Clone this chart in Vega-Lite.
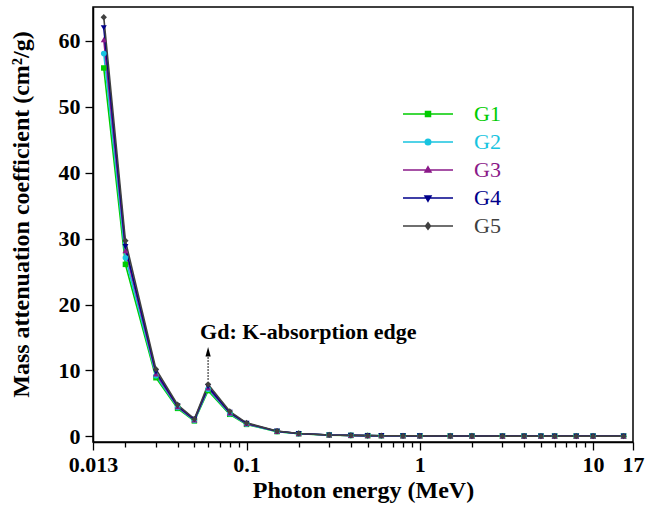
{
  "$schema": "https://vega.github.io/schema/vega-lite/v6.json",
  "width": 540,
  "height": 435,
  "autosize": "none",
  "padding": {"left": 93, "top": 7, "right": 13, "bottom": 73},
  "background": "white",
  "config": {
    "view": {"stroke": "black", "strokeWidth": 1.5},
    "font": "Liberation Serif",
    "axis": {
      "grid": false,
      "domainColor": "black",
      "domainWidth": 1.5,
      "tickColor": "black",
      "tickWidth": 1.3,
      "labelFont": "Liberation Serif",
      "labelFontWeight": "bold",
      "labelFontSize": 22,
      "labelColor": "black",
      "titleFont": "Liberation Serif",
      "titleFontWeight": "bold",
      "titleFontSize": 24,
      "titleColor": "black"
    }
  },
  "datasets": {
    "mu": [
      {"E": 0.015, "g": "G1", "mu": 55.9}, {"E": 0.02, "g": "G1", "mu": 26.1}, {"E": 0.03, "g": "G1", "mu": 8.9}, {"E": 0.04, "g": "G1", "mu": 4.25}, {"E": 0.05, "g": "G1", "mu": 2.35}, {"E": 0.06, "g": "G1", "mu": 6.95}, {"E": 0.08, "g": "G1", "mu": 3.35}, {"E": 0.1, "g": "G1", "mu": 1.82}, {"E": 0.15, "g": "G1", "mu": 0.73}, {"E": 0.2, "g": "G1", "mu": 0.41}, {"E": 0.3, "g": "G1", "mu": 0.2}, {"E": 0.4, "g": "G1", "mu": 0.145}, {"E": 0.5, "g": "G1", "mu": 0.118}, {"E": 0.6, "g": "G1", "mu": 0.103}, {"E": 0.8, "g": "G1", "mu": 0.086}, {"E": 1, "g": "G1", "mu": 0.075}, {"E": 1.5, "g": "G1", "mu": 0.06}, {"E": 2, "g": "G1", "mu": 0.052}, {"E": 3, "g": "G1", "mu": 0.044}, {"E": 4, "g": "G1", "mu": 0.04}, {"E": 5, "g": "G1", "mu": 0.038}, {"E": 6, "g": "G1", "mu": 0.037}, {"E": 8, "g": "G1", "mu": 0.036}, {"E": 10, "g": "G1", "mu": 0.036}, {"E": 15, "g": "G1", "mu": 0.037},
      {"E": 0.015, "g": "G2", "mu": 58.1}, {"E": 0.02, "g": "G2", "mu": 27.1}, {"E": 0.03, "g": "G2", "mu": 9.2}, {"E": 0.04, "g": "G2", "mu": 4.38}, {"E": 0.05, "g": "G2", "mu": 2.42}, {"E": 0.06, "g": "G2", "mu": 7.15}, {"E": 0.08, "g": "G2", "mu": 3.45}, {"E": 0.1, "g": "G2", "mu": 1.87}, {"E": 0.15, "g": "G2", "mu": 0.75}, {"E": 0.2, "g": "G2", "mu": 0.42}, {"E": 0.3, "g": "G2", "mu": 0.205}, {"E": 0.4, "g": "G2", "mu": 0.148}, {"E": 0.5, "g": "G2", "mu": 0.12}, {"E": 0.6, "g": "G2", "mu": 0.104}, {"E": 0.8, "g": "G2", "mu": 0.087}, {"E": 1, "g": "G2", "mu": 0.076}, {"E": 1.5, "g": "G2", "mu": 0.061}, {"E": 2, "g": "G2", "mu": 0.052}, {"E": 3, "g": "G2", "mu": 0.044}, {"E": 4, "g": "G2", "mu": 0.04}, {"E": 5, "g": "G2", "mu": 0.038}, {"E": 6, "g": "G2", "mu": 0.037}, {"E": 8, "g": "G2", "mu": 0.036}, {"E": 10, "g": "G2", "mu": 0.036}, {"E": 15, "g": "G2", "mu": 0.037},
      {"E": 0.015, "g": "G3", "mu": 60.2}, {"E": 0.02, "g": "G3", "mu": 28.2}, {"E": 0.03, "g": "G3", "mu": 9.5}, {"E": 0.04, "g": "G3", "mu": 4.5}, {"E": 0.05, "g": "G3", "mu": 2.5}, {"E": 0.06, "g": "G3", "mu": 7.35}, {"E": 0.08, "g": "G3", "mu": 3.55}, {"E": 0.1, "g": "G3", "mu": 1.93}, {"E": 0.15, "g": "G3", "mu": 0.77}, {"E": 0.2, "g": "G3", "mu": 0.43}, {"E": 0.3, "g": "G3", "mu": 0.21}, {"E": 0.4, "g": "G3", "mu": 0.15}, {"E": 0.5, "g": "G3", "mu": 0.121}, {"E": 0.6, "g": "G3", "mu": 0.105}, {"E": 0.8, "g": "G3", "mu": 0.088}, {"E": 1, "g": "G3", "mu": 0.077}, {"E": 1.5, "g": "G3", "mu": 0.062}, {"E": 2, "g": "G3", "mu": 0.053}, {"E": 3, "g": "G3", "mu": 0.045}, {"E": 4, "g": "G3", "mu": 0.041}, {"E": 5, "g": "G3", "mu": 0.039}, {"E": 6, "g": "G3", "mu": 0.038}, {"E": 8, "g": "G3", "mu": 0.037}, {"E": 10, "g": "G3", "mu": 0.037}, {"E": 15, "g": "G3", "mu": 0.038},
      {"E": 0.015, "g": "G4", "mu": 62.0}, {"E": 0.02, "g": "G4", "mu": 28.8}, {"E": 0.03, "g": "G4", "mu": 9.8}, {"E": 0.04, "g": "G4", "mu": 4.62}, {"E": 0.05, "g": "G4", "mu": 2.57}, {"E": 0.06, "g": "G4", "mu": 7.55}, {"E": 0.08, "g": "G4", "mu": 3.65}, {"E": 0.1, "g": "G4", "mu": 1.98}, {"E": 0.15, "g": "G4", "mu": 0.79}, {"E": 0.2, "g": "G4", "mu": 0.44}, {"E": 0.3, "g": "G4", "mu": 0.215}, {"E": 0.4, "g": "G4", "mu": 0.153}, {"E": 0.5, "g": "G4", "mu": 0.123}, {"E": 0.6, "g": "G4", "mu": 0.106}, {"E": 0.8, "g": "G4", "mu": 0.089}, {"E": 1, "g": "G4", "mu": 0.078}, {"E": 1.5, "g": "G4", "mu": 0.063}, {"E": 2, "g": "G4", "mu": 0.054}, {"E": 3, "g": "G4", "mu": 0.046}, {"E": 4, "g": "G4", "mu": 0.042}, {"E": 5, "g": "G4", "mu": 0.04}, {"E": 6, "g": "G4", "mu": 0.039}, {"E": 8, "g": "G4", "mu": 0.038}, {"E": 10, "g": "G4", "mu": 0.038}, {"E": 15, "g": "G4", "mu": 0.039},
      {"E": 0.015, "g": "G5", "mu": 63.6}, {"E": 0.02, "g": "G5", "mu": 29.7}, {"E": 0.03, "g": "G5", "mu": 10.2}, {"E": 0.04, "g": "G5", "mu": 4.8}, {"E": 0.05, "g": "G5", "mu": 2.65}, {"E": 0.06, "g": "G5", "mu": 7.9}, {"E": 0.08, "g": "G5", "mu": 3.8}, {"E": 0.1, "g": "G5", "mu": 2.05}, {"E": 0.15, "g": "G5", "mu": 0.81}, {"E": 0.2, "g": "G5", "mu": 0.45}, {"E": 0.3, "g": "G5", "mu": 0.22}, {"E": 0.4, "g": "G5", "mu": 0.156}, {"E": 0.5, "g": "G5", "mu": 0.125}, {"E": 0.6, "g": "G5", "mu": 0.108}, {"E": 0.8, "g": "G5", "mu": 0.09}, {"E": 1, "g": "G5", "mu": 0.079}, {"E": 1.5, "g": "G5", "mu": 0.064}, {"E": 2, "g": "G5", "mu": 0.055}, {"E": 3, "g": "G5", "mu": 0.047}, {"E": 4, "g": "G5", "mu": 0.043}, {"E": 5, "g": "G5", "mu": 0.041}, {"E": 6, "g": "G5", "mu": 0.04}, {"E": 8, "g": "G5", "mu": 0.039}, {"E": 10, "g": "G5", "mu": 0.039}, {"E": 15, "g": "G5", "mu": 0.04}
    ],
    "note": [
      {"E": 0.06, "mu": 14.8, "mu_lo": 8.6, "mu_hi": 12.3, "mu_head": 12.85, "label": "Gd: K-absorption edge"}
    ]
  },
  "layer": [
    {
      "data": {"name": "mu"},
      "mark": {"type": "line", "strokeWidth": 1.6},
      "encoding": {
        "x": {
          "field": "E", "type": "quantitative",
          "scale": {"type": "log", "domain": [0.013, 17], "nice": false},
          "axis": {
            "title": "Photon energy (MeV)",
            "values": [0.013, 0.02, 0.03, 0.04, 0.05, 0.06, 0.07, 0.08, 0.09, 0.1, 0.2, 0.3, 0.4, 0.5, 0.6, 0.7, 0.8, 0.9, 1, 2, 3, 4, 5, 6, 7, 8, 9, 10, 17],
            "labelExpr": "indexof([0.013, 0.1, 1, 10, 17], datum.value) >= 0 ? format(datum.value, '~g') : ''",
            "tickSize": {"condition": {"test": "indexof([0.013, 0.1, 1, 10, 17], datum.value) >= 0", "value": 8}, "value": 5},
            "labelFlush": false,
            "labelOverlap": false,
            "labelPadding": 4,
            "titlePadding": 3
          }
        },
        "y": {
          "field": "mu", "type": "quantitative",
          "scale": {"domain": [-0.85, 65.15], "nice": false, "zero": false},
          "axis": {
            "title": "Mass attenuation coefficient (cm²/g)",
            "values": [0, 5, 10, 15, 20, 25, 30, 35, 40, 45, 50, 55, 60],
            "labelExpr": "datum.value % 10 == 0 ? datum.label : ''",
            "tickSize": {"condition": {"test": "datum.value % 10 == 0", "value": 8}, "value": 4},
            "labelPadding": 5,
            "titlePadding": 25,
            "titleY": 207
          }
        },
        "color": {
          "field": "g", "type": "nominal",
          "scale": {"domain": ["G1", "G2", "G3", "G4", "G5"], "range": ["#00cc00", "#18c4e0", "#8b1a89", "#00008b", "#404040"]},
          "legend": {
            "title": null,
            "orient": "none",
            "legendX": 310,
            "legendY": 96,
            "padding": 0,
            "symbolSize": 400,
            "symbolOffset": 14,
            "symbolStrokeWidth": 1.5,
            "labelFont": "Liberation Serif",
            "labelFontSize": 22,
            "labelOffset": 35,
            "rowPadding": 6,
            "encode": {
              "symbols": {
                "update": {
                  "shape": {"signal": "datum.value==='G1'?'M-2.5,0H2.5M-0.25,-0.25H0.25V0.25H-0.25Z':datum.value==='G2'?'M-2.5,0H2.5M-0.275,0A0.275,0.275 0 1,0 0.275,0A0.275,0.275 0 1,0 -0.275,0Z':datum.value==='G3'?'M-2.5,0H2.5M0,-0.325L0.3,0.2L-0.3,0.2Z':datum.value==='G4'?'M-2.5,0H2.5M0,0.325L0.3,-0.2L-0.3,-0.2Z':'M-2.5,0H2.5M0,-0.325L0.25,0L0,0.325L-0.25,0Z'"},
                  "fill": {"scale": "color", "field": "value"},
                  "stroke": {"scale": "color", "field": "value"},
                  "strokeWidth": {"value": 1.5},
                  "size": {"value": 400},
                  "opacity": {"value": 1},
                  "fillOpacity": {"value": 1},
                  "strokeOpacity": {"value": 1}
                }
              },
              "labels": {
                "update": {
                  "fill": {"scale": "color", "field": "value"}
                }
              }
            }
          }
        }
      }
    },
    {
      "data": {"name": "mu"},
      "transform": [{"filter": "datum.g === 'G1'"}],
      "mark": {"type": "point", "filled": true, "size": 30, "opacity": 1, "shape": "square"},
      "encoding": {
        "x": {"field": "E", "type": "quantitative"},
        "y": {"field": "mu", "type": "quantitative"},
        "color": {"field": "g", "type": "nominal"}
      }
    },
    {
      "data": {"name": "mu"},
      "transform": [{"filter": "datum.g === 'G2'"}],
      "mark": {"type": "point", "filled": true, "size": 32, "opacity": 1, "shape": "circle"},
      "encoding": {
        "x": {"field": "E", "type": "quantitative"},
        "y": {"field": "mu", "type": "quantitative"},
        "color": {"field": "g", "type": "nominal"}
      }
    },
    {
      "data": {"name": "mu"},
      "transform": [{"filter": "datum.g === 'G3'"}],
      "mark": {"type": "point", "filled": true, "size": 36, "opacity": 1, "shape": "triangle-up"},
      "encoding": {
        "x": {"field": "E", "type": "quantitative"},
        "y": {"field": "mu", "type": "quantitative"},
        "color": {"field": "g", "type": "nominal"}
      }
    },
    {
      "data": {"name": "mu"},
      "transform": [{"filter": "datum.g === 'G4'"}],
      "mark": {"type": "point", "filled": true, "size": 36, "opacity": 1, "shape": "triangle-down"},
      "encoding": {
        "x": {"field": "E", "type": "quantitative"},
        "y": {"field": "mu", "type": "quantitative"},
        "color": {"field": "g", "type": "nominal"}
      }
    },
    {
      "data": {"name": "mu"},
      "transform": [{"filter": "datum.g === 'G5'"}],
      "mark": {"type": "point", "filled": true, "size": 40, "opacity": 1, "shape": "diamond"},
      "encoding": {
        "x": {"field": "E", "type": "quantitative"},
        "y": {"field": "mu", "type": "quantitative"},
        "color": {"field": "g", "type": "nominal"}
      }
    },
    {
      "data": {"name": "note"},
      "mark": {"type": "rule", "color": "black", "strokeWidth": 1.2, "strokeDash": [1.5, 1.5]},
      "encoding": {
        "x": {"field": "E", "type": "quantitative"},
        "y": {"field": "mu_lo", "type": "quantitative"},
        "y2": {"field": "mu_hi"}
      }
    },
    {
      "data": {"name": "note"},
      "mark": {"type": "point", "filled": true, "color": "black", "opacity": 1, "size": 90, "shape": "M0,-1L0.55,1L-0.55,1Z"},
      "encoding": {
        "x": {"field": "E", "type": "quantitative"},
        "y": {"field": "mu_head", "type": "quantitative"}
      }
    },
    {
      "data": {"name": "note"},
      "mark": {"type": "text", "align": "left", "baseline": "alphabetic", "dx": -8, "font": "Liberation Serif", "fontWeight": "bold", "fontSize": 22, "color": "black"},
      "encoding": {
        "x": {"field": "E", "type": "quantitative"},
        "y": {"field": "mu", "type": "quantitative"},
        "text": {"field": "label"}
      }
    }
  ]
}
